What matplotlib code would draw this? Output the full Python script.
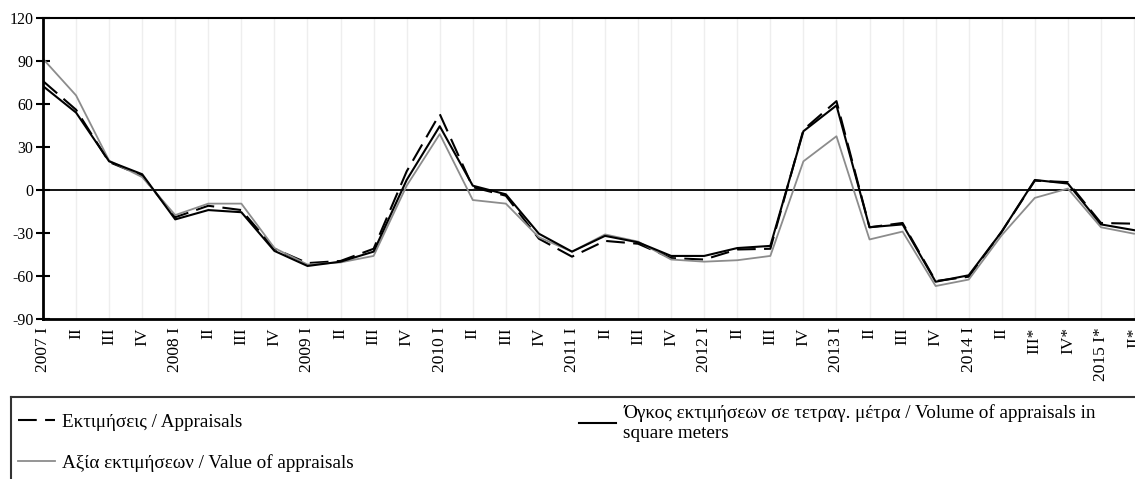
import matplotlib
matplotlib.use('Agg')
from matplotlib import pyplot as plt
from matplotlib.lines import Line2D
import numpy as np

plt.rcParams['font.family'] = ['Liberation Serif', 'DejaVu Serif']
plt.rcParams['axes.unicode_minus'] = False

# Quarter labels (* = provisional)
quarters = ['2007 I', 'II', 'III', 'IV',
            '2008 I', 'II', 'III', 'IV',
            '2009 I', 'II', 'III', 'IV',
            '2010 I', 'II', 'III', 'IV',
            '2011 I', 'II', 'III', 'IV',
            '2012 I', 'II', 'III', 'IV',
            '2013 I', 'II', 'III', 'IV',
            '2014 I', 'II', 'III*', 'IV*',
            '2015 I*', 'II*']

# Year-on-year change (%)
appraisals = [76, 56, 19.5, 10, -19, -11, -14, -41, -51, -49.5, -41, 13,
              53, 2, -4, -34, -46.5, -35.5, -37.5, -47.5, -48.5, -41.5, -41, 42,
              62, -26, -23, -63.5, -60.5, -29, 6.5, 5.5, -23, -23.5]
volume = [72.5, 54, 20, 11, -20.5, -14, -15.5, -42.5, -53, -50, -43, 7,
          44.5, 3, -3, -30.5, -43, -32, -36.5, -46, -46, -40.5, -39, 41,
          59, -26, -24, -64, -59.5, -29, 7, 4.5, -24, -28]
value = [91.5, 66, 20.5, 9, -17.5, -9.5, -9.5, -40.5, -52, -50.5, -46, 3,
         39, -7, -9.5, -33, -43, -31, -36, -48.5, -50, -49, -46, 20,
         37.5, -34.5, -29, -67, -62.5, -31.5, -5.5, 1, -26, -30.5]

x = np.arange(len(quarters))

fig = plt.figure(figsize=(11.35, 4.79), dpi=100)
W, H = 1135, 479
ax = fig.add_axes([43 / W, 1 - 319 / H, (W - 43) / W, (319 - 18) / H])

ax.plot(x, appraisals, color='black', linewidth=1.5, dashes=(9, 4), label='Εκτιμήσεις / Appraisals')
ax.plot(x, value, color='#8c8c8c', linewidth=1.3, label='Αξία εκτιμήσεων / Value of appraisals')
ax.plot(x, volume, color='black', linewidth=1.5,
        label='Όγκος εκτιμήσεων σε τετραγ. μέτρα / Volume of appraisals in\nsquare meters')
ax.axhline(0, color='black', linewidth=1.3, zorder=1)

ax.set_xlim(0, 33.03)
ax.set_ylim(-90, 120)
ax.set_yticks(range(-90, 121, 30))
ax.set_xticks(x)
ax.set_xticklabels(quarters, rotation=90, fontsize=12.5)
ax.tick_params(axis='x', length=0, pad=6)
ax.tick_params(axis='y', direction='inout', length=10, width=1.5, labelsize=11.5, pad=2)
ax.grid(axis='x', color='#eeeeee', linewidth=1)
ax.set_axisbelow(True)

ax.spines['right'].set_visible(False)
ax.spines['left'].set_linewidth(2)
ax.spines['bottom'].set_linewidth(2)
ax.spines['top'].set_linewidth(1.5)

# Legend, split into two columns as in the source
h = ax.get_lines()
leg_kw = dict(frameon=False, fontsize=13.8, borderpad=0, borderaxespad=0,
              handlelength=1.95, handletextpad=0.35, loc='center left')
fig.legend([h[0]], [h[0].get_label()], bbox_to_anchor=(18 / W, 1 - 422 / H), **leg_kw)
fig.legend([h[1]], [h[1].get_label()], bbox_to_anchor=(18 / W, 1 - 463 / H), **leg_kw)
fig.legend([h[2]], [h[2].get_label()], bbox_to_anchor=(579 / W, 1 - 423 / H), **leg_kw)

# Legend border (only top and left edges fall inside the image)
fig.add_artist(Line2D([11 / W, 1], [1 - 397 / H, 1 - 397 / H], color='#333333', linewidth=1.5))
fig.add_artist(Line2D([11 / W, 11 / W], [1 - 397 / H, 0], color='#333333', linewidth=1.5))

fig.savefig('out.png', dpi=100)
